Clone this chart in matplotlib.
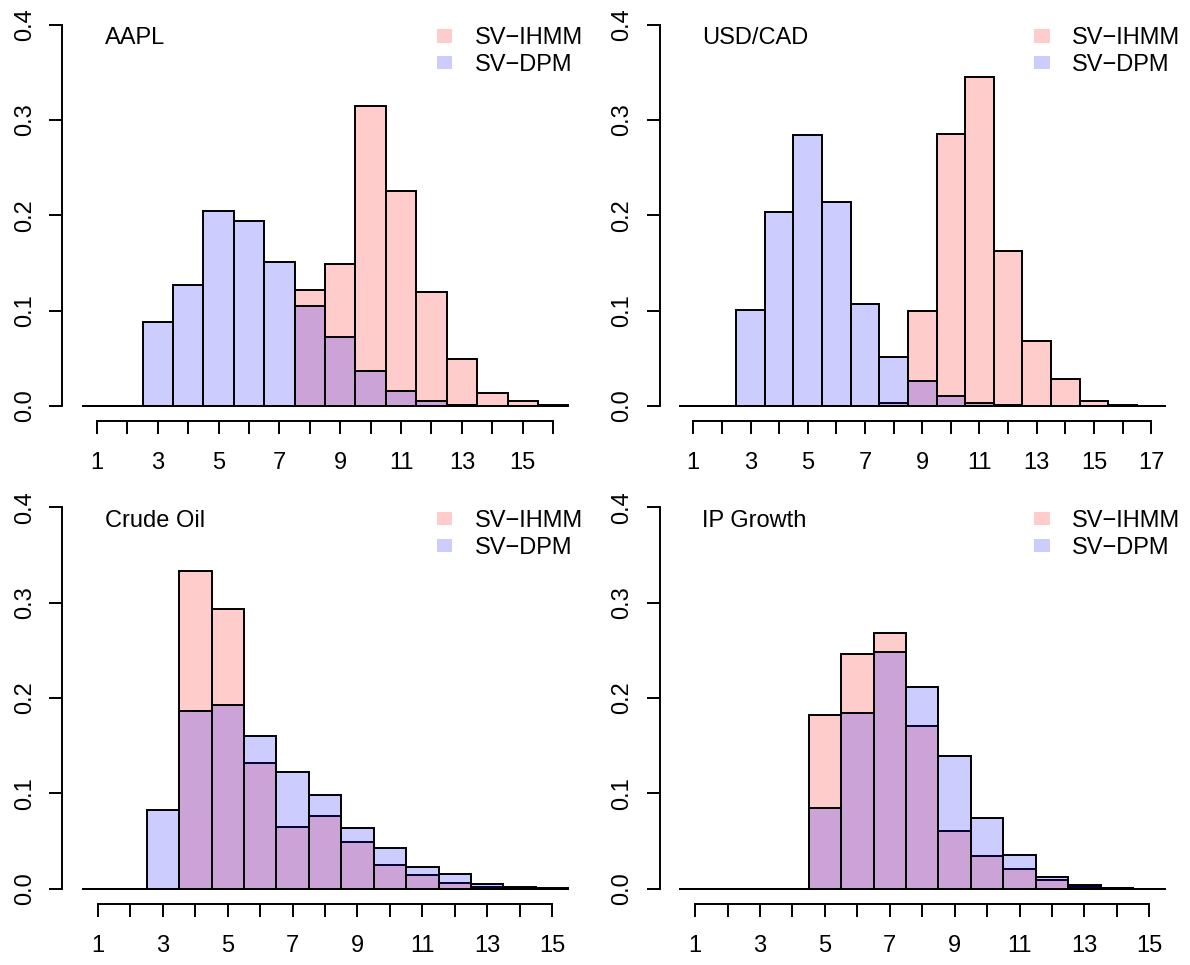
import matplotlib
matplotlib.use('Agg')
import matplotlib.pyplot as plt
from matplotlib.patches import Patch
import numpy as np

plt.rcParams['font.family'] = ['Liberation Sans', 'DejaVu Sans']

# posterior frequency of the number of regimes, per model
aapl_ihmm = [0, 0, 0, 0, 0, 0, 0, 0.122, 0.149, 0.315, 0.225, 0.120, 0.049, 0.014, 0.005, 0.001]
aapl_dpm = [0, 0, 0.088, 0.127, 0.205, 0.194, 0.151, 0.105, 0.072, 0.037, 0.016, 0.005, 0.001, 0, 0, 0]

usdcad_ihmm = [0, 0, 0, 0, 0, 0, 0, 0.003, 0.100, 0.285, 0.3455, 0.163, 0.068, 0.028, 0.005, 0.001, 0]
usdcad_dpm = [0, 0, 0.101, 0.2035, 0.284, 0.214, 0.1065, 0.051, 0.026, 0.0105, 0.0035, 0.0014, 0, 0, 0, 0, 0]

oil_ihmm = [0, 0, 0, 0.3335, 0.2937, 0.132, 0.065, 0.0766, 0.049, 0.0248, 0.015, 0.0066, 0.002, 0.0007, 0.0003]
oil_dpm = [0, 0, 0.083, 0.1867, 0.1926, 0.160, 0.1227, 0.0979, 0.0643, 0.043, 0.0224, 0.0154, 0.0056, 0.002, 0.0005]

ip_ihmm = [0, 0, 0, 0, 0.182, 0.2458, 0.2678, 0.171, 0.0605, 0.0343, 0.0213, 0.0091, 0.002, 0.0005, 0]
ip_dpm = [0, 0, 0, 0, 0.085, 0.1842, 0.2486, 0.2112, 0.139, 0.0738, 0.0353, 0.0126, 0.0038, 0.0014, 0.0003]

titles = ['AAPL', 'USD/CAD', 'Crude Oil', 'IP Growth']
series_names = ['SV\u2212IHMM', 'SV\u2212DPM']
yticks = [0.0, 0.1, 0.2, 0.3, 0.4]

RED = (1, 0, 0, 0.2)
BLUE = (0, 0, 1, 0.2)
FS = 17
LW = 1.4

W, H = 1190, 965
fig = plt.figure(figsize=(W / 100, H / 100), dpi=100)

# plot regions in pixels: left, top (all the same size)
regions = [(62.3, 9.3), (659.5, 9.3), (62.3, 492.1), (659.5, 492.1)]
RW, RH = 525.5, 412.0


def panel(region, title, ihmm, dpm):
    left, top = region
    ax = fig.add_axes([left / W, 1 - (top + RH) / H, RW / W, RH / H])
    n = len(ihmm)
    x = np.arange(1, n + 1)
    ax.bar(x, ihmm, width=1, color=RED, edgecolor='black', linewidth=LW)
    ax.bar(x, dpm, width=1, color=BLUE, edgecolor='black', linewidth=LW)

    ext = 0.04 * n
    ax.set_xlim(0.5 - ext, n + 0.5 + ext)
    ax.set_ylim(-0.016, 0.416)

    for s in ['top', 'right']:
        ax.spines[s].set_visible(False)
    ax.spines['left'].set_bounds(0, 0.4)
    ax.spines['bottom'].set_bounds(1, n)
    for s in ['left', 'bottom']:
        ax.spines[s].set_linewidth(LW)

    ax.set_xticks(x)
    ax.set_xticklabels([str(i) if i % 2 == 1 else '' for i in x])
    ax.set_yticks(yticks)
    ax.set_yticklabels(['%.1f' % v for v in yticks], rotation=90, va='center')
    ax.tick_params(axis='both', direction='out', length=9.7, width=LW, labelsize=FS)
    ax.tick_params(axis='x', pad=12.5)
    ax.tick_params(axis='y', pad=9.5)

    ax.text(42.7 / RW, 1 - 35 / RH, title, transform=ax.transAxes,
            fontsize=FS, ha='left', va='baseline')

    handles = [Patch(facecolor=RED, edgecolor='none'),
               Patch(facecolor=BLUE, edgecolor='none')]
    ax.legend(handles, series_names, loc='upper right',
              bbox_to_anchor=(1 - 4.5 / RW, 1 - 18 / RH),
              frameon=False, fontsize=FS, borderpad=0, borderaxespad=0,
              handlelength=0.64, handleheight=0.5, handletextpad=0.96,
              labelspacing=0.2)
    return ax


panel(regions[0], titles[0], aapl_ihmm, aapl_dpm)
panel(regions[1], titles[1], usdcad_ihmm, usdcad_dpm)
panel(regions[2], titles[2], oil_ihmm, oil_dpm)
panel(regions[3], titles[3], ip_ihmm, ip_dpm)

fig.savefig('out.png', dpi=100)
